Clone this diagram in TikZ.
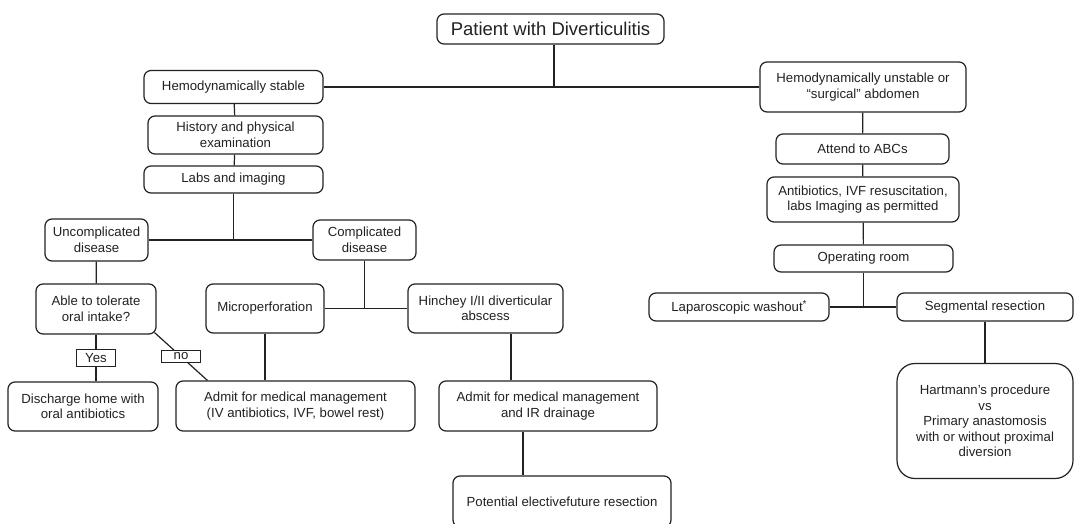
\documentclass[tikz,border=0pt]{standalone}
\usepackage{fontspec}
\setmainfont{Liberation Sans}
\usepackage{tikz}
\usetikzlibrary{positioning}
\definecolor{inkgray}{RGB}{34,34,34}
\tikzset{
  flow/.style={draw=inkgray, text=inkgray, line width=1.2pt, rounded corners=7pt,
    fill=white, align=center, inner sep=0pt,
    font=\fontsize{13.2}{15.5}\selectfont},
  tag/.style={draw=inkgray, text=inkgray, line width=1.2pt, fill=white,
    inner xsep=0pt, inner ysep=2pt, minimum width=39pt,
    font=\fontsize{13.2}{15.5}\selectfont},
  link/.style={draw=inkgray, line width=1.2pt}
}
% name, x, y, width, height, text
\newcommand{\flowbox}[6]{%
  \node[flow, minimum width=#4pt, minimum height=#5pt] (#1) at (#2,#3) {#6};}

\begin{document}
\begin{tikzpicture}[x=1pt, y=-1pt]
  \useasboundingbox (0,0) rectangle (1075,524);
  \clip (0,0) rectangle (1075,524);
  \fill[white] (0,0) rectangle (1075,524);

  \flowbox{patient}{550.5}{29}{227}{30}{\fontsize{18.5}{22}\selectfont Patient with Diverticulitis}

  % stable branch
  \flowbox{stable}{233.5}{87}{179}{33}{Hemodynamically stable}
  \flowbox{history}{235.5}{135}{175}{38}{History and physical\\examination}
  \flowbox{labs}{233.5}{179.5}{179}{27}{Labs and imaging}
  \flowbox{uncomp}{96.5}{240}{103}{42}{Uncomplicated\\disease}
  \flowbox{comp}{364.5}{240}{103}{40}{Complicated\\disease}
  \flowbox{able}{96}{309}{120}{50}{Able to tolerate\\oral intake?}
  \flowbox{discharge}{83}{406.5}{150}{49}{Discharge home with\\oral antibiotics}
  \flowbox{admitiv}{295.5}{406}{239}{50}{Admit for medical management\\(IV antibiotics, IVF, bowel rest)}
  \flowbox{micro}{265}{308.5}{118}{49}{Microperforation}
  \flowbox{hinchey}{485.5}{308.5}{155}{49}{Hinchey I/II diverticular\\abscess}
  \flowbox{admitir}{548}{406}{218}{50}{Admit for medical management\\and IR drainage}
  \flowbox{potential}{562}{501.5}{218}{51}{Potential electivefuture resection}

  % unstable branch
  \flowbox{unstable}{863}{87}{206}{50}{Hemodynamically unstable or\\“surgical” abdomen}
  \flowbox{abc}{862.5}{149}{173}{30}{Attend to ABCs}
  \flowbox{resus}{863}{199.5}{192}{45}{Antibiotics, IVF resuscitation,\\labs Imaging as permitted}
  \flowbox{theatre}{863.5}{258.5}{179}{27}{Operating room}
  \flowbox{washout}{739}{307}{180}{28}{Laparoscopic washout\raisebox{4pt}{\fontsize{10}{10}\selectfont *}}
  \flowbox{segment}{985}{307}{176}{28}{Segmental resection}
  \node[flow, rounded corners=18pt, minimum width=176pt, minimum height=115pt]
    (hartmann) at (985,421) {Hartmann’s procedure\\vs\\Primary anastomosis\\with or without proximal\\diversion};

  \coordinate (topsplit) at (554,87);
  \coordinate (hinx) at (511,0);
  \coordinate (drainx) at (523,0);

  \draw[link] (patient.south -| topsplit) -- (topsplit);
  \draw[link] (stable.east) -- (unstable.west);
  \draw[link] (stable) -- (history);
  \draw[link] (history) -- (labs);
  \draw[link] (labs.south) -- (labs.south |- uncomp.east);
  \draw[link] (uncomp.east) -- (comp.west);
  \draw[link] (uncomp) -- (able);
  \draw[link] (able.south) -- node[tag, minimum height=17pt] (yes) {Yes} (able.south |- discharge.north);
  \draw[link] ([shift={(-2,-2)}]able.south east) -- node[tag] (no) {no} ([xshift=32pt]admitiv.north west);
  \draw[link] (comp.south) -- (comp.south |- micro.east);
  \draw[link] (micro.east) -- (hinchey.west);
  \draw[link] (micro.south) -- (micro.south |- admitiv.north);
  \draw[link] (hinchey.south -| hinx) -- (admitir.north -| hinx);
  \draw[link] (admitir.south -| drainx) -- (potential.north -| drainx);

  \draw[link] (unstable) -- (abc);
  \draw[link] (abc) -- (resus);
  \draw[link] (resus) -- (theatre);
  \draw[link] (theatre.south) -- (theatre.south |- washout.east);
  \draw[link] (washout.east) -- (segment.west);
  \draw[link] (segment.south) -- (hartmann.north);
\end{tikzpicture}
\end{document}
